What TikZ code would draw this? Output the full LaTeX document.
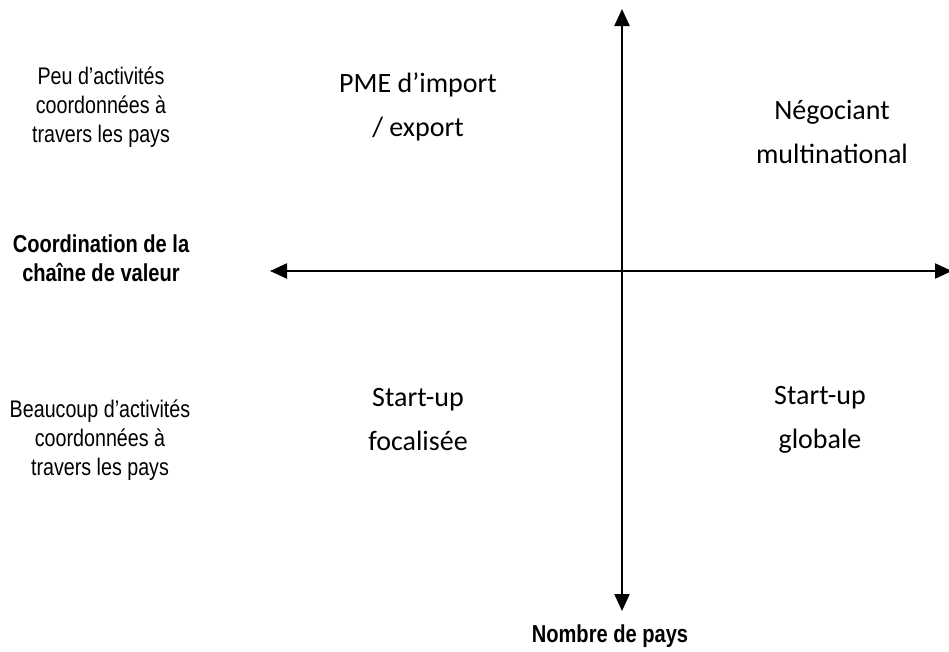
\documentclass[tikz,border=0pt]{standalone}
\usepackage{fontspec}
\setmainfont{Carlito}
\newfontfamily\narrowfont[FakeStretch=0.82]{Liberation Sans}
\usetikzlibrary{arrows.meta}

\tikzset{
  axis/.style={line width=2.2pt, {Triangle[width=15pt,length=17pt]}-{Triangle[width=15pt,length=17pt]}},
  quad/.style={align=center, font=\fontsize{28}{44}\selectfont},
  side/.style={align=center, font=\narrowfont\fontsize{24}{29}\selectfont},
  title/.style={align=center, font=\narrowfont\bfseries\fontsize{24.5}{29}\selectfont}
}

\begin{document}
\begin{tikzpicture}[x=1pt, y=-1pt]
  \useasboundingbox (0,0) rectangle (949,651);

  % Axes
  \coordinate (top) at (622,9);
  \coordinate (bottom) at (622,611);
  \coordinate (left) at (270,271);
  \coordinate (right) at (952,271);
  \draw[axis] (top) -- (bottom);
  \draw[axis] (left) -- (right);

  % Quadrants
  \node[quad] (pme) at (418,107) {PME d’import\\/ export};
  \node[quad] (nego) at (832,132) {Négociant\\multinational};
  \node[quad] (focal) at (418,420) {Start-up\\focalisée};
  \node[quad] (glob) at (820,420) {Start-up\\globale};

  % Labels
  \node[side] (peu) at (101,107) {Peu d’activités\\coordonnées à\\travers les pays};
  \node[title] (coord) at (101,258) {Coordination de la\\chaîne de valeur};
  \node[side] (beau) at (100,440) {Beaucoup d’activités\\coordonnées à\\travers les pays};
  \node[title] (pays) at (610,636) {Nombre de pays};
\end{tikzpicture}
\end{document}
